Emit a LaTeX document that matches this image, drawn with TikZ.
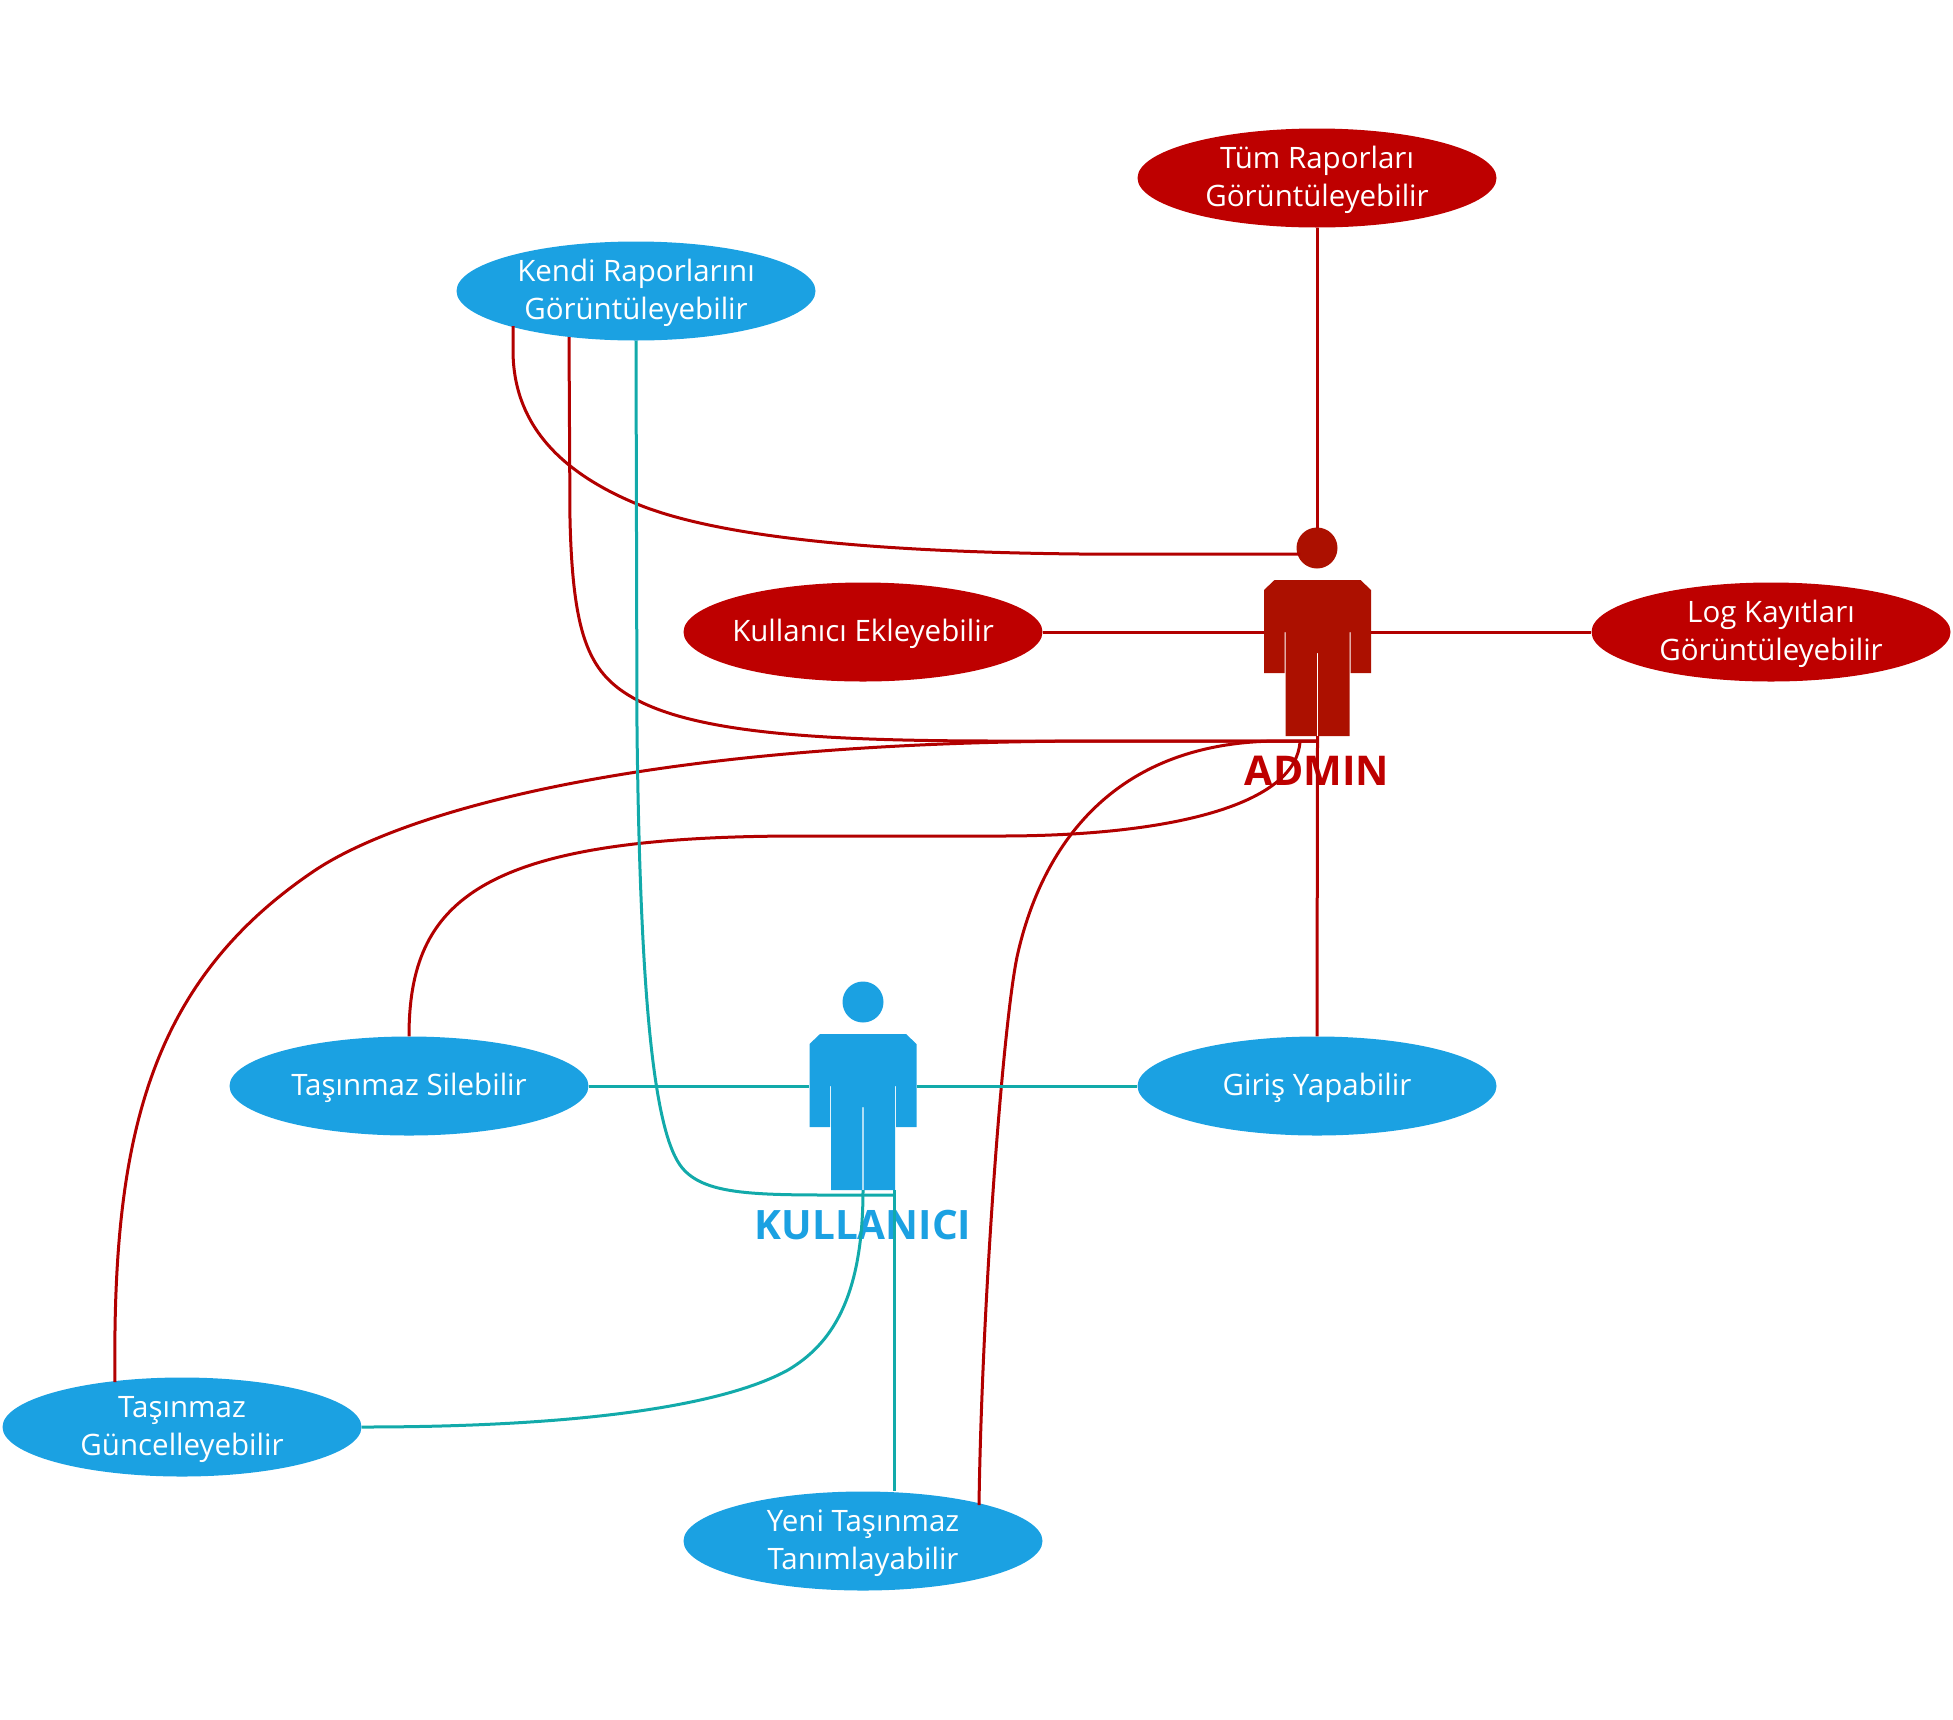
\documentclass[tikz,border=0pt]{standalone}
\usepackage{fontspec}
\setmainfont{Open Sans}
\definecolor{redE}{HTML}{BE0000}
\definecolor{redP}{HTML}{AC1000}
\definecolor{redL}{HTML}{B20000}
\definecolor{blueE}{HTML}{1BA1E2}
\definecolor{tealL}{HTML}{12AAAA}
\usetikzlibrary{shapes.geometric}
\newcommand{\etxt}[1]{\raisebox{-8pt}[0pt][0pt]{\begin{tabular}{@{}c@{}}#1\end{tabular}}}
\tikzset{
  ell/.style={ellipse,minimum width=359pt,minimum height=99pt,inner xsep=-30pt,inner ysep=0pt,text=white,font=\fontsize{29.5}{37.5}\selectfont},
  redell/.style={ell,fill=redE},
  blueell/.style={ell,fill=blueE},
  redline/.style={draw=redL,line width=3pt},
  tealline/.style={draw=tealL,line width=3pt},
  bodybox/.style={minimum width=107pt,minimum height=156pt,inner sep=0pt},
  headdot/.style={circle,minimum size=40pt,inner sep=0pt},
  ptitle/.style={font=\fontsize{41}{44}\selectfont\bfseries}
}
\newcommand{\personbody}[2]{%
  \fill[#2,shift={(#1)}] (-43,-78) -- (43,-78) -- (53.5,-68) -- (53.5,15) -- (33,15) -- (33,-26) -- (32,-26) -- (32,78) -- (0.7,78) -- (0.7,-5) -- (-0.7,-5) -- (-0.7,78) -- (-32,78) -- (-32,-26) -- (-33,-26) -- (-33,15) -- (-53.5,15) -- (-53.5,-68) -- cycle;
}
\begin{document}
\begin{tikzpicture}[x=1pt,y=-1pt]
\useasboundingbox (0,0) rectangle (1953,1719);
\node[redell] (tum) at (1317,178) {\etxt{Tüm Raporları\\Görüntüleyebilir}};
\node[blueell] (kendi) at (636,291) {\etxt{Kendi Raporlarını\\Görüntüleyebilir}};
\node[redell] (ekle) at (863,632) {\etxt{Kullanıcı Ekleyebilir}};
\node[redell] (log) at (1771,632) {\etxt{Log Kayıtları\\Görüntüleyebilir}};
\node[blueell] (sil) at (409,1086) {\etxt{Taşınmaz Silebilir}};
\node[blueell] (giris) at (1317,1086) {\etxt{Giriş Yapabilir}};
\node[blueell] (guncel) at (182,1427) {\etxt{Taşınmaz\\Güncelleyebilir}};
\node[blueell] (yeni) at (863,1541) {\etxt{Yeni Taşınmaz\\Tanımlayabilir}};
\node[bodybox] (admin) at (1317.5,658) {};
\node[headdot] (adminhead) at (1317,548) {};
\node[bodybox] (user) at (863,1112) {};
\node[headdot] (userhead) at (863,1002) {};
\coordinate (a1) at (513,326);
\coordinate (a2) at (569,337);
\coordinate (a3) at (115,1382);
\coordinate (a4) at (979,1505);
\coordinate (u1) at (894,1491);
\coordinate (h1) at (1300,554);
\coordinate (b0) at (1317,741);
\coordinate (b1) at (1300,741);
\coordinate (c1) at (894,1190);
\coordinate (c2) at (894,1195);
% figures and titles
\personbody{1317.5,658}{redP}
\fill[redP] (adminhead) circle (20.5pt);
\personbody{863,1112}{blueE}
\fill[blueE] (userhead) circle (20.5pt);
\node[ptitle,text=redE] (admintitle) at (1317,771) {ADMIN};
\node[ptitle,text=blueE,font=\fontsize{40.5}{44}\selectfont\bfseries] (usertitle) at (863,1225) {KULLANICI};
% red connectors
\draw[redline] (tum.south) -- (adminhead.north);
\draw[redline] (ekle.east) -- (admin.west |- ekle.east);
\draw[redline] (admin.east |- log.west) -- (log.west);
\draw[redline] (admin.south) -- (giris.north);
\draw[redline] (a1) -- (513,350) .. controls (513,420) and (555,470) .. (637,504) .. controls (720,538) and (880,552) .. (1080,554) -- (h1);
\draw[redline] (a2) -- (570,520) .. controls (573,640) and (590,675) .. (637,700) .. controls (700,733) and (820,741) .. (1000,741) -- (b0);
\draw[redline] (a3) .. controls (112,1140) and (148,983) .. (314,871) .. controls (400,813) and (640,741) .. (1100,741) -- (b0);
\draw[redline] (sil.north) .. controls (409,900) and (480,836) .. (800,836) -- (1000,836) .. controls (1170,836) and (1297,805) .. (b1);
\draw[redline] (a4) .. controls (982,1300) and (1003,1025) .. (1017,957) .. controls (1036,870) and (1095,741) .. (1280,741) -- (b0);
% teal connectors
\draw[tealline] (sil.east) -- (user.west |- sil.east);
\draw[tealline] (user.east |- giris.west) -- (giris.west);
\draw[tealline] (kendi.south) -- (637,730) .. controls (640,980) and (652,1125) .. (680,1165) .. controls (700,1193) and (745,1195) .. (830,1195) -- (c2);
\draw[tealline] (guncel.east) .. controls (600,1427) and (730,1402) .. (788,1370) .. controls (830,1345) and (863,1300) .. (user.south);
\draw[tealline] (u1) -- (c1);
\end{tikzpicture}
\end{document}
